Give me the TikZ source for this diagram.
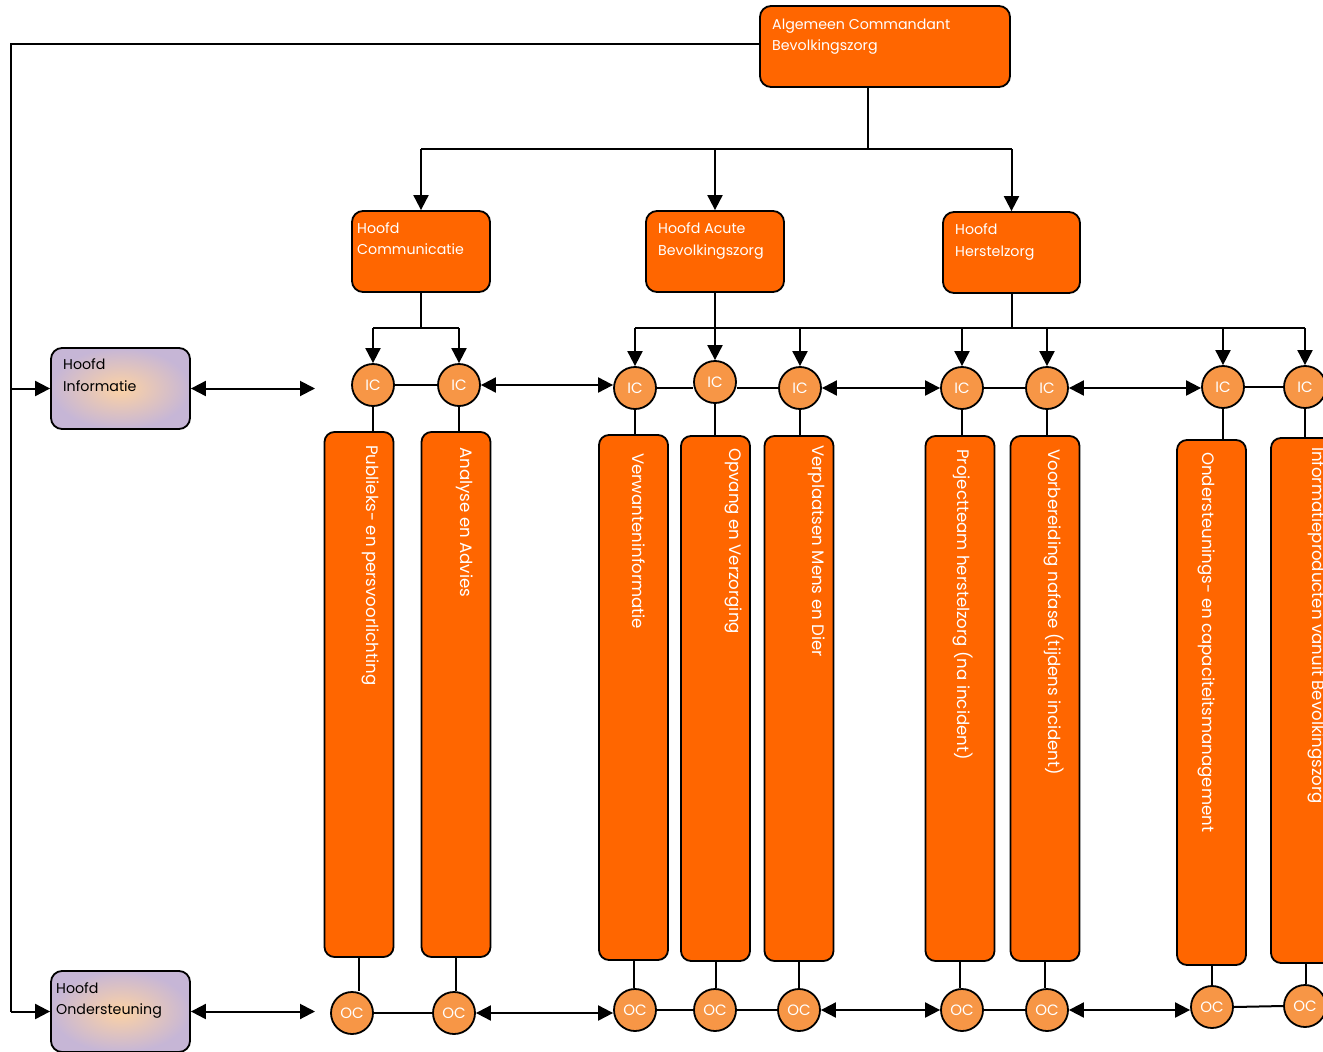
\documentclass[tikz,border=0pt]{standalone}
\usepackage{fontspec}
\setmainfont{Poppins}
\usetikzlibrary{arrows.meta,calc}
\definecolor{orng}{HTML}{FF6600}
\definecolor{lorng}{HTML}{F79646}
\definecolor{lav}{HTML}{C6B6D6}
\definecolor{peach}{HTML}{FCD2A4}
\newcommand{\htxtfont}{\fontsize{14.2}{18}\selectfont}
\newcommand{\vtxtfont}{\fontsize{16.6}{20}\selectfont}
\tikzset{
  obox/.style={draw=black, line width=1.8pt, fill=orng, rounded corners=11pt, inner sep=0pt},
  lbox/.style={draw=black, line width=1.8pt, inner color=peach, outer color=lav, rounded corners=11pt, inner sep=0pt},
  tallbox/.style={draw=black, line width=1.8pt, fill=orng, rounded corners=10pt, minimum width=69pt, minimum height=525pt, inner sep=0pt},
  circ/.style={circle, draw=black, line width=1.8pt, fill=lorng, minimum size=42pt, inner sep=0pt, text=white, font=\fontsize{15}{15}\selectfont},
  wtxt/.style={text=white, inner sep=0pt, anchor=base west, font=\htxtfont},
  btxt/.style={text=black, inner sep=0pt, anchor=base west, font=\htxtfont},
  vtxt/.style={text=white, rotate=-90, anchor=mid west, inner sep=0pt, font=\vtxtfont},
  con/.style={line width=2pt, draw=black},
  arr/.style={con, -{Triangle[length=15pt,width=15pt]}},
  darr/.style={con, {Triangle[length=15pt,width=15pt]}-{Triangle[length=15pt,width=15pt]}},
}
\begin{document}
\begin{tikzpicture}[x=1pt,y=-1pt]
\useasboundingbox (0,0) rectangle (1323,1052);
\clip (0,0) rectangle (1323,1052);

% main boxes
\node[obox, minimum width=250pt, minimum height=81pt] (acb) at (885,46.5) {};
\node[wtxt] (acbt1) at (772,29) {Algemeen Commandant};
\node[wtxt] (acbt2) at (772,50) {Bevolkingszorg};

\node[obox, minimum width=138pt, minimum height=81pt] (hc) at (421,251.5) {};
\node[wtxt] (hct1) at (357,233) {Hoofd};
\node[wtxt] (hct2) at (357,254) {Communicatie};

\node[obox, minimum width=138pt, minimum height=81pt] (hab) at (715,251.5) {};
\node[wtxt] (habt1) at (658,233) {Hoofd Acute};
\node[wtxt] (habt2) at (658,255) {Bevolkingszorg};

\node[obox, minimum width=137pt, minimum height=81pt] (hh) at (1011.5,252.5) {};
\node[wtxt] (hht1) at (955,234) {Hoofd};
\node[wtxt] (hht2) at (955,256) {Herstelzorg};

\node[lbox, minimum width=139pt, minimum height=81pt] (hi) at (120.5,388.5) {};
\node[btxt] (hit1) at (63,369) {Hoofd};
\node[btxt] (hit2) at (63,391) {Informatie};

\node[lbox, minimum width=139pt, minimum height=81pt] (ho) at (120.5,1011.5) {};
\node[btxt] (hot1) at (56,993) {Hoofd};
\node[btxt] (hot2) at (56,1014) {Ondersteuning};

% IC circles
\node[circ] (ic1) at (373,385) {IC};
\node[circ] (ic2) at (459,385) {IC};
\node[circ] (ic3) at (635,388) {IC};
\node[circ] (ic4) at (715,382) {IC};
\node[circ] (ic5) at (800,388) {IC};
\node[circ] (ic6) at (962,388) {IC};
\node[circ] (ic7) at (1047,388) {IC};
\node[circ] (ic8) at (1223,387) {IC};
\node[circ] (ic9) at (1305,387) {IC};

% OC circles
\node[circ] (oc1) at (352,1013) {OC};
\node[circ] (oc2) at (454,1013) {OC};
\node[circ] (oc3) at (635,1010) {OC};
\node[circ] (oc4) at (715,1010) {OC};
\node[circ] (oc5) at (799,1010) {OC};
\node[circ] (oc6) at (962,1010) {OC};
\node[circ] (oc7) at (1047,1010) {OC};
\node[circ] (oc8) at (1212,1007) {OC};
\node[circ] (oc9) at (1305,1006) {OC};

% tall boxes
\node[tallbox] (b1) at (359,694.5) {};
\node[tallbox] (b2) at (456,694.5) {};
\node[tallbox] (b3) at (633.5,697.5) {};
\node[tallbox] (b4) at (715.5,698.5) {};
\node[tallbox] (b5) at (799,698.5) {};
\node[tallbox] (b6) at (960,698.5) {};
\node[tallbox] (b7) at (1045,698.5) {};
\node[tallbox] (b8) at (1211.5,702.5) {};
\node[tallbox, minimum width=70pt] (b9) at (1306,700.5) {};

\node[vtxt] (bt1) at (369,445) {Publieks- en persvoorlichting};
\node[vtxt] (bt2) at (463,447) {Analyse en Advies};
\node[vtxt] (bt3) at (635,453) {Verwanteninformatie};
\node[vtxt] (bt4) at (732,448) {Opvang en Verzorging};
\node[vtxt] (bt5) at (815,445) {Verplaatsen Mens en Dier};
\node[vtxt] (bt6) at (960,449) {Projectteam herstelzorg (na incident)};
\node[vtxt] (bt7) at (1051,449) {Voorbereiding nafase (tijdens incident)};
\node[vtxt] (bt8) at (1205,452) {Ondersteunings- en capaciteitsmanagement};
\node[vtxt] (bt9) at (1315,447) {Informatieproducten vanuit Bevolkingszorg};

% left trunk
\coordinate (ltop) at (11,44);
\coordinate (lhi) at (11,388.5);
\coordinate (lho) at (11,1011.5);
\draw[con] (acb.west |- ltop) -- (ltop) -- (lho);
\draw[arr] (lhi) -- (hi.west);
\draw[arr] (lho) -- (ho.west);

% top tree
\coordinate (acbs) at (868,87);
\coordinate (tj) at (868,149);
\draw[con] (acbs) -- (tj);
\draw[con] (hc.north |- tj) -- (hh.north |- tj);
\draw[arr] (hc.north |- tj) -- (hc.north);
\draw[arr] (hab.north |- tj) -- (hab.north);
\draw[arr] (hh.north |- tj) -- (hh.north);

% communicatie branch
\coordinate (cj) at (421,328);
\draw[con] (hc.south) -- (cj);
\draw[con] (ic1.north |- cj) -- (ic2.north |- cj);
\draw[arr] (ic1.north |- cj) -- (ic1.north);
\draw[arr] (ic2.north |- cj) -- (ic2.north);

% acute + herstel branch
\coordinate (aj) at (715,328);
\coordinate (hj) at (1011.5,328);
\draw[con] (hab.south) -- (aj);
\draw[con] (hh.south) -- (hj);
\draw[con] (ic3.north |- aj) -- (ic9.north |- aj);
\foreach \n in {3,4,5,6,7,8,9}{
  \draw[arr] (ic\n.north |- aj) -- (ic\n.north);
}

% IC row horizontals
\coordinate (hie) at (315,388.5);
\draw[darr] (hi.east) -- (hie);
\draw[con] (ic1.east) -- (ic1.east -| ic2.west);
\draw[darr] (ic2.east) -- (ic2.east -| ic3.west);
\draw[con] (ic3.east) -- (ic3.east -| ic4.west);
\draw[con] (ic5.west -| ic4.east) -- (ic5.west);
\draw[darr] (ic5.east) -- (ic6.west);
\draw[con] (ic6.east) -- (ic7.west);
\draw[darr] (ic7.east) -- (ic7.east -| ic8.west);
\draw[con] (ic8.east) -- (ic9.west);

% IC to boxes
\foreach \n in {1,...,9}{
  \draw[con] (ic\n.south) -- (ic\n.south |- b\n.north);
}
% boxes to OC
\foreach \n in {1,...,9}{
  \draw[con] (b\n.south) -- (b\n.south |- oc\n.north);
}

% OC row horizontals
\coordinate (hoe) at (315,1011.5);
\draw[darr] (ho.east) -- (hoe);
\draw[con] (oc1.east) -- (oc2.west);
\draw[darr] (oc2.east) -- (oc2.east -| oc3.west);
\draw[con] (oc3.east) -- (oc4.west);
\draw[con] (oc4.east) -- (oc5.west);
\draw[darr] (oc5.east) -- (oc6.west);
\draw[con] (oc6.east) -- (oc7.west);
\draw[darr] (oc7.east) -- (oc7.east -| oc8.west);
\draw[con] (oc8.east) -- (oc9.west);
\end{tikzpicture}
\end{document}
